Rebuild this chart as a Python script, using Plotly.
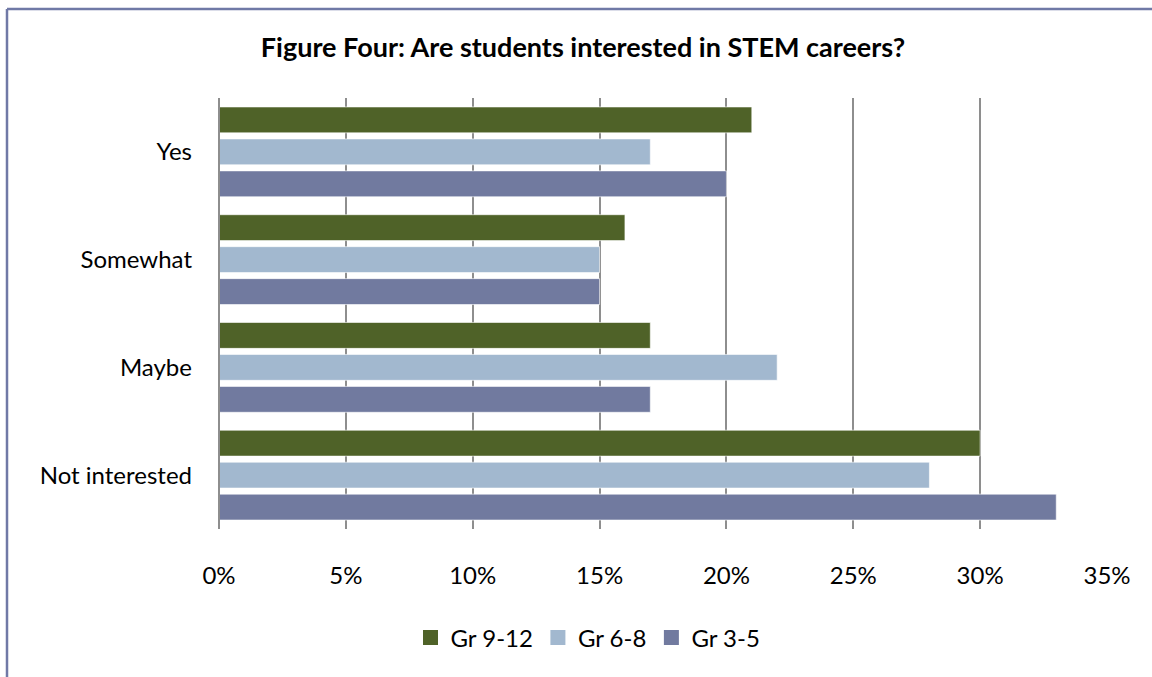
import plotly.graph_objects as go

categories = ["Yes", "Somewhat", "Maybe", "Not interested"]
series_names = ["Gr 9-12", "Gr 6-8", "Gr 3-5"]
gr_9_12 = [21, 16, 17, 30]
gr_6_8 = [17, 15, 22, 28]
gr_3_5 = [20, 15, 17, 33]
tick_values = [0, 5, 10, 15, 20, 25, 30, 35]
tick_labels = ["0%", "5%", "10%", "15%", "20%", "25%", "30%", "35%"]
title_text = "Figure Four: Are students interested in STEM careers?"

colors = ["#4F6228", "#A2B8CF", "#717A9F"]
W, H = 1152, 677
ML, MR, MT, MB = 219, 45, 98, 148
PW, PH = W - ML - MR, H - MT - MB

fig = go.Figure()
for name, vals, c in zip(series_names, [gr_9_12, gr_6_8, gr_3_5], colors):
    fig.add_trace(go.Bar(
        y=categories, x=vals, name=name, orientation="h",
        legendgroup=name, showlegend=False,
        marker=dict(color=c, line=dict(color="rgba(255,255,255,0.6)", width=1)),
    ))
# legend entries with larger square swatches
for name, c in zip(series_names, colors):
    fig.add_trace(go.Scatter(
        x=[None], y=[None], mode="markers", name=name, legendgroup=name,
        marker=dict(symbol="square", size=15, color=c),
    ))

FONT = "Lato"


def px_x(px):
    return (px - ML) / PW


def px_y(py):
    return (H - MB - py) / PH


border = "#7079A6"
fig.update_layout(
    width=W, height=H,
    margin=dict(l=ML, r=MR, t=MT, b=MB),
    paper_bgcolor="white", plot_bgcolor="white",
    barmode="group", bargap=0.11, bargroupgap=0.19,
    font=dict(family=FONT, size=24, color="#000000"),
    title=dict(text="<b>" + title_text + "</b>", x=583 / W, xanchor="center",
               y=1 - 48 / H, yanchor="middle",
               font=dict(family=FONT, size=27, color="#000000")),
    xaxis=dict(range=[0, 35], tickvals=tick_values, ticktext=tick_labels,
               showgrid=True, gridcolor="#8E8E8E", gridwidth=2,
               zeroline=False, showline=False, ticks="",
               ticklabelstandoff=30, fixedrange=True,
               tickfont=dict(family=FONT, size=24)),
    yaxis=dict(autorange="reversed", showgrid=False, zeroline=False,
               showline=False, ticks="", ticklabelstandoff=26,
               tickfont=dict(family=FONT, size=24)),
    legend=dict(orientation="h", xref="container", x=588 / W, xanchor="center",
                yref="container", y=1 - 638 / H, yanchor="middle",
                font=dict(family=FONT, size=24), itemwidth=30,
                traceorder="normal"),
    shapes=[
        dict(type="line", xref="paper", yref="paper",
             x0=px_x(7), x1=px_x(W + 5), y0=px_y(9), y1=px_y(9),
             line=dict(color=border, width=2.5)),
        dict(type="line", xref="paper", yref="paper",
             x0=px_x(7), x1=px_x(7), y0=px_y(9), y1=px_y(H + 5),
             line=dict(color=border, width=2.5)),
        dict(type="line", xref="paper", yref="paper",
             x0=0, x1=0, y0=0, y1=1,
             line=dict(color="#8E8E8E", width=2)),
    ],
)

fig.write_html("out.html")
